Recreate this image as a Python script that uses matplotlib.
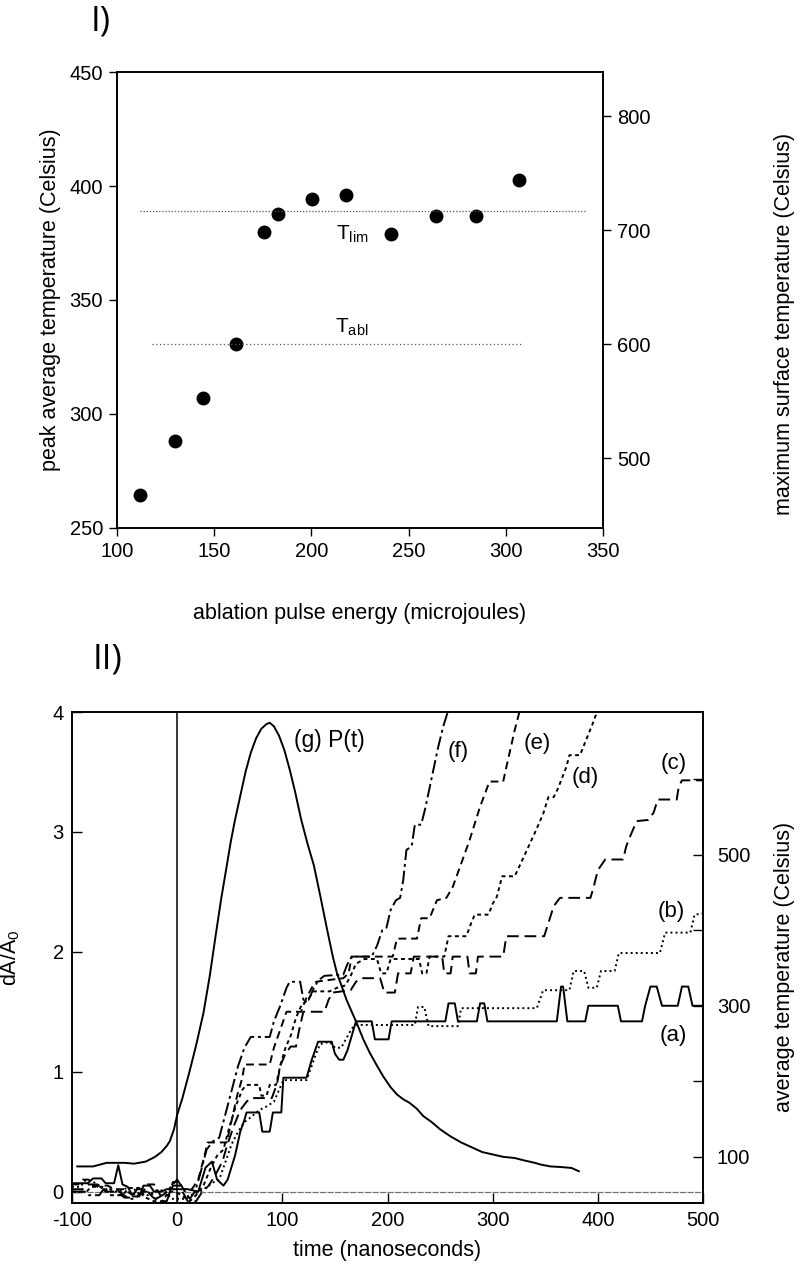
import numpy as np
import matplotlib.pyplot as plt

plt.rcParams['font.family'] = ['Liberation Sans', 'DejaVu Sans']
plt.rcParams['axes.unicode_minus'] = False

# ----------------------------------
# Panel I data
# ----------------------------------
energy = [112, 130, 144, 161, 175.5, 183, 200.5, 217.6, 241, 264.3, 284.8, 306.6]
peak_temp = [264.5, 288.3, 306.8, 330.7, 380, 387.9, 394.5, 395.9, 379.1, 386.8, 387, 402.5]

t_lim_level = 389
t_lim_span = [112, 341.5]
t_abl_level = 330.8
t_abl_span = [117.8, 309]

# ----------------------------------
# Panel II data (time in ns, dA/A0)
# ----------------------------------
t_g = [-95, -80, -67, -50, -41, -30, -21, -15, -10, -7, -3, 0, 5, 12, 18, 25, 31, 37,
       42, 47, 51, 55, 60, 65, 70, 75, 80, 85, 88, 92, 97, 102, 107, 112, 118, 124,
       130, 136, 142, 148, 152, 157, 161, 166, 171, 177, 183, 190, 196, 203, 209,
       215, 221, 228, 234, 242, 250, 260, 270, 280, 290, 300, 310, 321, 330, 340,
       346, 355, 365, 375, 382]
g_vals = [0.21, 0.21, 0.24, 0.24, 0.233, 0.25, 0.29, 0.33, 0.38, 0.42, 0.52, 0.64, 0.78,
          1.01, 1.22, 1.49, 1.8, 2.16, 2.45, 2.71, 2.92, 3.1, 3.3, 3.5, 3.66, 3.78,
          3.86, 3.9, 3.91, 3.88, 3.8, 3.68, 3.52, 3.34, 3.1, 2.9, 2.72, 2.47, 2.21,
          1.96, 1.82, 1.7, 1.6, 1.5, 1.4, 1.27, 1.16, 1.05, 0.96, 0.87, 0.81, 0.77,
          0.74, 0.69, 0.63, 0.58, 0.52, 0.46, 0.41, 0.37, 0.33, 0.31, 0.29, 0.28,
          0.26, 0.24, 0.225, 0.21, 0.205, 0.197, 0.17]

t_a = [-100, -85, -80, -72, -68, -60, -56, -52, -47, -42, -36, -32, -26, -22, -15, -10,
       0, 10, 20, 27, 33, 38, 44, 48, 55, 60, 64, 66, 78, 81, 88, 91, 99, 101, 123,
       128, 134, 147, 150, 154, 158, 162, 166, 170, 185, 188, 201, 204, 255, 258,
       264, 267, 285, 288, 292, 295, 361, 365, 367, 371, 388, 391, 419, 422, 442,
       445, 450, 456, 461, 476, 480, 486, 490, 500]
a_vals = [0.07, 0.07, 0.11, 0.11, 0.07, 0.07, 0.22, 0.06, 0.04, -0.04, -0.04, 0.05, 0.05,
          0.0, 0.0, 0.02, 0.02, 0.02, 0.0, 0.2, 0.25, 0.1, 0.05, 0.1, 0.3, 0.5, 0.6,
          0.66, 0.66, 0.5, 0.5, 0.66, 0.66, 0.95, 0.95, 1.1, 1.25, 1.25, 1.15, 1.1,
          1.1, 1.18, 1.3, 1.42, 1.42, 1.27, 1.27, 1.42, 1.42, 1.57, 1.57, 1.42, 1.42,
          1.57, 1.57, 1.42, 1.42, 1.71, 1.71, 1.42, 1.42, 1.55, 1.55, 1.42, 1.42,
          1.55, 1.71, 1.71, 1.55, 1.55, 1.71, 1.71, 1.55, 1.55]

t_b = [-100, -92, -88, -80, -75, -70, -62, -55, -48, -42, -35, -28, -20, -12, -5, 0, 8,
       15, 22, 30, 35, 40, 46, 52, 58, 64, 70, 78, 85, 92, 97, 101, 123, 128, 132,
       136, 145, 150, 156, 161, 166, 170, 226, 229, 235, 239, 267, 270, 342, 348,
       373, 377, 387, 391, 399, 403, 416, 420, 459, 464, 488, 492, 500]
b_vals = [0.04, 0.04, 0.09, 0.09, 0.03, 0.03, 0.0, 0.0, 0.03, 0.03, -0.03, -0.03, 0.01,
          0.01, -0.06, -0.06, -0.06, -0.02, 0.0, 0.05, 0.08, 0.1, 0.25, 0.4, 0.5,
          0.58, 0.62, 0.68, 0.71, 0.75, 0.85, 0.93, 0.93, 1.05, 1.15, 1.23, 1.25,
          1.2, 1.2, 1.28, 1.36, 1.39, 1.39, 1.54, 1.54, 1.38, 1.38, 1.53, 1.53, 1.68,
          1.68, 1.84, 1.84, 1.7, 1.7, 1.84, 1.84, 1.99, 1.99, 2.16, 2.16, 2.31, 2.32]

t_c = [-100, -90, -84, -76, -68, -58, -50, -44, -38, -30, -24, -18, -10, -4, 2, 10, 18,
       24, 30, 37, 43, 48, 54, 60, 66, 70, 90, 95, 98, 103, 108, 113, 116, 120, 140,
       144, 148, 165, 170, 175, 193, 197, 207, 210, 222, 225, 252, 254, 260, 262,
       276, 278, 284, 286, 310, 313, 349, 353, 358, 364, 393, 396, 400, 407, 424,
       427, 432, 437, 448, 453, 457, 475, 477, 480, 500]
c_vals = [0.02, 0.02, 0.06, 0.06, 0.0, 0.0, -0.05, -0.05, 0.02, 0.02, -0.04, -0.08,
          -0.08, 0.05, 0.05, -0.08, -0.08, 0.0, 0.05, 0.15, 0.25, 0.4, 0.55, 0.68,
          0.75, 0.78, 0.78, 0.9, 1.05, 1.15, 1.21, 1.21, 1.35, 1.5, 1.5, 1.6, 1.66,
          1.68, 1.75, 1.78, 1.78, 1.66, 1.66, 1.82, 1.82, 1.96, 1.96, 1.82, 1.82,
          1.96, 1.96, 1.82, 1.82, 1.96, 1.96, 2.13, 2.13, 2.24, 2.38, 2.45, 2.45,
          2.54, 2.68, 2.77, 2.77, 2.88, 2.99, 3.09, 3.1, 3.16, 3.27, 3.27, 3.38,
          3.43, 3.43]

t_d = [-100, -86, -82, -70, -64, -52, -46, -36, -30, -22, -14, -8, -2, 4, 12, 18, 25,
       32, 38, 44, 50, 56, 62, 66, 78, 80, 85, 88, 94, 98, 103, 108, 113, 118, 124,
       130, 145, 152, 160, 165, 170, 178, 190, 194, 199, 203, 230, 233, 237, 240,
       254, 258, 275, 280, 283, 296, 300, 304, 309, 321, 330, 340, 348, 353, 358,
       362, 366, 370, 373, 383, 389, 395, 400]
d_vals = [0.0, 0.0, 0.04, 0.04, -0.03, -0.03, 0.03, 0.03, -0.05, -0.08, -0.08, 0.0,
          0.0, -0.03, -0.08, -0.03, 0.05, 0.2, 0.3, 0.35, 0.55, 0.72, 0.85, 0.89,
          0.89, 0.8, 0.8, 0.89, 0.89, 1.05, 1.2, 1.3, 1.45, 1.55, 1.6, 1.67, 1.67,
          1.7, 1.72, 1.8, 1.9, 1.94, 1.94, 1.82, 1.82, 1.94, 1.94, 1.82, 1.82, 1.96,
          1.96, 2.13, 2.13, 2.25, 2.31, 2.31, 2.4, 2.46, 2.63, 2.63, 2.8, 2.99, 3.15,
          3.29, 3.29, 3.36, 3.45, 3.54, 3.64, 3.64, 3.77, 3.9, 4.02]

t_e = [-100, -94, -90, -84, -80, -66, -60, -50, -44, -34, -28, -22, -16, -8, -4, 2, 6,
       14, 20, 26, 29, 47, 52, 57, 62, 64, 88, 92, 96, 100, 104, 118, 122, 128, 132,
       140, 158, 163, 166, 205, 209, 228, 232, 240, 247, 256, 262, 269, 278, 288,
       297, 310, 313, 321, 326]
e_vals = [0.06, 0.06, 0.1, 0.1, 0.05, 0.05, 0.02, 0.02, -0.02, -0.02, 0.06, 0.06,
          -0.03, -0.03, 0.08, 0.08, 0.02, 0.02, 0.1, 0.3, 0.41, 0.41, 0.6, 0.8, 0.95,
          1.06, 1.06, 1.2, 1.3, 1.4, 1.5, 1.5, 1.6, 1.7, 1.75, 1.76, 1.78, 1.82, 1.96,
          1.96, 2.11, 2.11, 2.28, 2.28, 2.43, 2.45, 2.54, 2.71, 2.93, 3.21, 3.42,
          3.42, 3.54, 3.85, 4.02]

t_f = [-100, -88, -84, -74, -70, -58, -52, -46, -40, -34, -26, -20, -12, -4, 0, 6, 12,
       17, 22, 28, 34, 40, 46, 52, 58, 64, 70, 88, 92, 98, 104, 107, 117, 120, 125,
       129, 134, 140, 158, 162, 166, 185, 190, 195, 199, 203, 208, 212, 215, 218,
       223, 226, 232, 236, 242, 248, 253, 258]
f_vals = [0.0, 0.0, -0.03, -0.03, 0.02, 0.02, -0.02, -0.06, -0.06, 0.0, 0.0, -0.06,
          -0.02, 0.06, 0.1, 0.02, -0.06, 0.0, 0.15, 0.35, 0.42, 0.45, 0.65, 0.85,
          1.05, 1.2, 1.29, 1.29, 1.42, 1.55, 1.7, 1.75, 1.75, 1.6, 1.6, 1.68, 1.76,
          1.8, 1.81, 1.9, 1.96, 1.96, 2.05, 2.18, 2.2, 2.35, 2.43, 2.45, 2.6, 2.85,
          2.88, 3.06, 3.06, 3.2, 3.45, 3.7, 3.88, 4.02]

curve_labels = ['(a)', '(b)', '(c)', '(d)', '(e)', '(f)']
label_t = [472, 470, 472, 388, 342, 267]
label_y = [1.3, 2.34, 3.57, 3.45, 3.74, 3.67]

# right axis of panel II: temperature scale, linear in dA/A0
temp_ticks = [100, 200, 300, 400, 500, 600]
temp_labels = ['100', '', '300', '', '500', '']
temp_at_100 = 0.29      # dA/A0 at 100 C
temp_slope = 0.0063     # dA/A0 per degree

# ----------------------------------
# Figure
# ----------------------------------
fig = plt.figure(figsize=(8.06, 12.70), dpi=100)

# ---- Panel I ----
ax1 = fig.add_axes([117 / 806, 1 - 528 / 1270, 486 / 806, 456 / 1270])
ax1.plot(energy, peak_temp, 'o', color='black', markersize=9)
ax1.plot(t_lim_span, [t_lim_level, t_lim_level], color='0.35', lw=0.9, ls=(0, (1, 1.5)))
ax1.plot(t_abl_span, [t_abl_level, t_abl_level], color='0.35', lw=0.9, ls=(0, (1, 2)))
ax1.text(221, 379, r'T$\mathregular{_{lim}}$', fontsize=15, ha='center', va='center')
ax1.text(221, 338, r'T$\mathregular{_{abl}}$', fontsize=15, ha='center', va='center')

ax1.set_xlim(100, 350)
ax1.set_ylim(250, 450)
ax1.set_xticks([100, 150, 200, 250, 300, 350])
ax1.set_yticks([250, 300, 350, 400, 450])
ax1.tick_params(direction='out', length=6, width=1, labelsize=14.5, pad=4)
ax1.set_xlabel('ablation pulse energy (microjoules)', fontsize=15.5)
ax1.set_ylabel('peak average temperature (Celsius)', fontsize=15.5)
ax1.xaxis.set_label_coords(0.5, -0.165)
ax1.yaxis.set_label_coords(-0.115, 0.5)

ax1r = ax1.twinx()
ax1r.set_ylim(2 * 250 - 61, 2 * 450 - 61)
ax1r.set_yticks([500, 600, 700, 800])
ax1r.tick_params(direction='out', length=6, width=1, labelsize=14.5, pad=4)
ax1r.set_ylabel('maximum surface temperature (Celsius)', fontsize=15.5)
ax1r.yaxis.set_label_coords(1.352, 0.447)

for a in (ax1, ax1r):
    for s in a.spines.values():
        s.set_linewidth(1.2)

fig.text(101 / 806, 1 - 22 / 1270, 'I)', fontsize=25, family=['Open Sans', 'DejaVu Sans'],
         ha='center', va='center')
fig.text(108 / 806, 1 - 660 / 1270, 'II)', fontsize=25, family=['Open Sans', 'DejaVu Sans'],
         ha='center', va='center')

# ---- Panel II ----
ax2 = fig.add_axes([72 / 806, 1 - 1203 / 1270, 631 / 806, 491 / 1270])
ax2.axhline(0, color='0.45', lw=0.9, ls=(0, (5, 1)))
ax2.axvline(0, color='black', lw=1.1)

ax2.plot(t_g, g_vals, color='black', lw=1.4)
ax2.plot(t_a, a_vals, color='black', lw=1.4, ls='-')
ax2.plot(t_b, b_vals, color='black', lw=1.4, ls=(0, (1, 1.6)))
ax2.plot(t_c, c_vals, color='black', lw=1.4, ls=(0, (6, 3)))
ax2.plot(t_d, d_vals, color='black', lw=1.4, ls=(0, (2, 1.8)))
ax2.plot(t_e, e_vals, color='black', lw=1.4, ls=(0, (4, 2.5)))
ax2.plot(t_f, f_vals, color='black', lw=1.4, ls=(0, (7, 2, 1.5, 2)))

for lab, tx, ty in zip(curve_labels, label_t, label_y):
    ax2.text(tx, ty, lab, fontsize=16, ha='center', va='center')
ax2.text(111, 3.76, '(g) P(t)', fontsize=16.5, ha='left', va='center')

ax2.set_xlim(-100, 500)
ax2.set_ylim(-0.095, 4.0)
ax2.set_xticks([-100, 0, 100, 200, 300, 400, 500])
ax2.set_yticks([0, 1, 2, 3, 4])
ax2.tick_params(direction='in', length=7, width=1, labelsize=14.5, pad=6)
ax2.set_xlabel('time (nanoseconds)', fontsize=15.5)
ax2.set_ylabel(r'dA/A$\mathregular{_0}$', fontsize=15.5)
ax2.xaxis.set_label_coords(0.5, -0.075)
ax2.yaxis.set_label_coords(-0.079, 0.5)

lo, hi = ax2.get_ylim()
ax2r = ax2.twinx()
ax2r.set_ylim(100 + (lo - temp_at_100) / temp_slope, 100 + (hi - temp_at_100) / temp_slope)
ax2r.set_yticks(temp_ticks)
ax2r.set_yticklabels(temp_labels)
ax2r.tick_params(direction='in', length=7, width=1, labelsize=14.5, pad=10)
ax2r.set_ylabel('average temperature (Celsius)', fontsize=15.5)
ax2r.yaxis.set_label_coords(1.112, 0.48)

for a in (ax2, ax2r):
    for s in a.spines.values():
        s.set_linewidth(1.2)

fig.savefig('out.png', dpi=100)
